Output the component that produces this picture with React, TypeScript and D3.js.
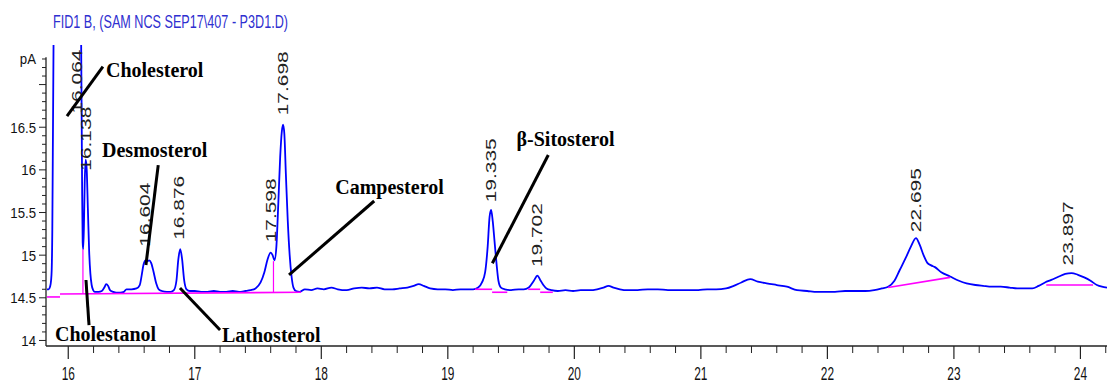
import * as d3 from "d3";

const W = 1107;
const H = 383;

const title = "FID1 B, (SAM NCS SEP17\\407 - P3D1.D)";
const yUnit = "pA";
const xTickValues = [16, 17, 18, 19, 20, 21, 22, 23, 24];
const yTickLabels = [14, 14.5, 15, 15.5, 16, 16.5];

// detector trace [retention time (min), signal (pA)]
const trace: [number, number][] = [
  [15.832, 14.6], [15.845, 14.6], [15.856, 14.63], [15.864, 14.7], [15.869, 14.82], [15.874, 15.3],
  [15.878, 16.2], [15.882, 17.1], [15.886, 18.0], [15.9, 19.5], [16.0, 20.5], [16.09, 19.2],
  [16.1, 17.9], [16.106, 16.6], [16.11, 15.7], [16.114, 15.15], [16.118, 15.07], [16.124, 15.35],
  [16.13, 15.85], [16.138, 16.12], [16.146, 16.0], [16.155, 15.55], [16.165, 15.05], [16.175, 14.78],
  [16.185, 14.65], [16.197, 14.59], [16.21, 14.57], [16.24, 14.57], [16.265, 14.58], [16.285, 14.62],
  [16.3, 14.66], [16.315, 14.64], [16.33, 14.59], [16.355, 14.57], [16.38, 14.56], [16.41, 14.56],
  [16.44, 14.57], [16.46, 14.6], [16.5, 14.6], [16.54, 14.61], [16.565, 14.65], [16.58, 14.76],
  [16.595, 14.89], [16.61, 14.94], [16.625, 14.93], [16.64, 14.94], [16.655, 14.91], [16.675, 14.8],
  [16.695, 14.67], [16.715, 14.6], [16.74, 14.58], [16.78, 14.57], [16.81, 14.57], [16.835, 14.59],
  [16.855, 14.7], [16.87, 14.95], [16.885, 15.07], [16.9, 14.95], [16.915, 14.72], [16.935, 14.6],
  [16.96, 14.58], [17.0, 14.58], [17.05, 14.57], [17.1, 14.57], [17.15, 14.58], [17.2, 14.57],
  [17.25, 14.57], [17.3, 14.58], [17.35, 14.57], [17.4, 14.58], [17.44, 14.59], [17.48, 14.61],
  [17.52, 14.68], [17.55, 14.8], [17.575, 14.95], [17.6, 15.03], [17.615, 15.0], [17.63, 14.94],
  [17.645, 15.1], [17.66, 15.6], [17.675, 16.15], [17.688, 16.45], [17.698, 16.53], [17.708, 16.42],
  [17.72, 15.95], [17.735, 15.4], [17.75, 15.0], [17.765, 14.75], [17.78, 14.62], [17.8, 14.58],
  [17.83, 14.57], [17.87, 14.6], [17.92, 14.59], [17.97, 14.61], [18.02, 14.6], [18.08, 14.62],
  [18.13, 14.6], [18.2, 14.59], [18.26, 14.61], [18.32, 14.62], [18.38, 14.61], [18.44, 14.62],
  [18.5, 14.6], [18.56, 14.6], [18.62, 14.61], [18.68, 14.62], [18.73, 14.64], [18.77, 14.66],
  [18.81, 14.64], [18.86, 14.61], [18.92, 14.6], [18.98, 14.6], [19.04, 14.59], [19.1, 14.6],
  [19.16, 14.6], [19.2, 14.6], [19.24, 14.62], [19.27, 14.68], [19.295, 14.8], [19.315, 15.1],
  [19.33, 15.45], [19.342, 15.53], [19.355, 15.4], [19.37, 15.15], [19.385, 14.9], [19.4, 14.7],
  [19.42, 14.62], [19.45, 14.6], [19.5, 14.59], [19.56, 14.6], [19.6, 14.6], [19.64, 14.62],
  [19.68, 14.7], [19.708, 14.76], [19.73, 14.71], [19.755, 14.65], [19.78, 14.61], [19.82, 14.59],
  [19.87, 14.58], [19.93, 14.59], [19.99, 14.58], [20.05, 14.59], [20.12, 14.59], [20.18, 14.6],
  [20.23, 14.62], [20.27, 14.64], [20.31, 14.62], [20.36, 14.6], [20.42, 14.59], [20.5, 14.59],
  [20.58, 14.6], [20.66, 14.6], [20.74, 14.59], [20.82, 14.59], [20.9, 14.59], [20.98, 14.59],
  [21.05, 14.6], [21.12, 14.6], [21.2, 14.61], [21.26, 14.64], [21.32, 14.68], [21.39, 14.72],
  [21.45, 14.69], [21.52, 14.67], [21.6, 14.65], [21.68, 14.63], [21.76, 14.59], [21.84, 14.58],
  [21.92, 14.57], [21.98, 14.57], [22.06, 14.57], [22.14, 14.58], [22.22, 14.58], [22.3, 14.58],
  [22.37, 14.59], [22.43, 14.61], [22.48, 14.63], [22.53, 14.7], [22.57, 14.82], [22.62, 14.97],
  [22.66, 15.1], [22.7, 15.2], [22.73, 15.12], [22.76, 15.0], [22.79, 14.91], [22.82, 14.88],
  [22.85, 14.86], [22.9, 14.8], [22.97, 14.75], [23.04, 14.7], [23.1, 14.67], [23.17, 14.65],
  [23.23, 14.64], [23.3, 14.63], [23.37, 14.63], [23.44, 14.62], [23.5, 14.61], [23.56, 14.61],
  [23.62, 14.61], [23.67, 14.64], [23.72, 14.68], [23.77, 14.71], [23.83, 14.75], [23.88, 14.78],
  [23.93, 14.79], [23.98, 14.77], [24.03, 14.74], [24.08, 14.7], [24.13, 14.65], [24.17, 14.63],
  [24.21, 14.62],
];

// integration baselines [t1, v1, t2, v2]
const baselines: [number, number, number, number][] = [
  [15.832, 14.51, 15.935, 14.51],
  [15.935, 14.545, 17.84, 14.565],
  [19.215, 14.6, 19.35, 14.6],
  [19.35, 14.565, 19.47, 14.565],
  [19.635, 14.6, 19.73, 14.6],
  [19.73, 14.565, 19.83, 14.565],
  [22.48, 14.62, 22.97, 14.74],
  [23.73, 14.65, 24.1, 14.65],
];
// peak split drop lines [t, vLow, vHigh]
const dropLines: [number, number, number][] = [
  [16.116, 14.545, 15.07],
  [17.622, 14.56, 14.93],
];

const peakTimes = [16.064, 16.138, 16.604, 16.876, 17.598, 17.698, 19.335, 19.702, 22.695, 23.897];
const peakLabelBase = [16.66, 15.99, 15.1, 15.18, 15.15, 16.64, 15.62, 14.86, 15.27, 14.88];

const compoundNames = ["Cholesterol", "Desmosterol", "Campesterol", "β-Sitosterol", "Cholestanol", "Lathosterol"];
const compoundTextAt: [number, number][] = [
  [16.298, 17.09], [16.267, 16.15], [18.11, 15.72], [19.543, 16.28], [15.895, 13.99], [17.215, 13.98],
];
const compoundLines: [number, number, number, number][] = [
  [15.99, 16.63, 16.274, 17.21],
  [16.711, 16.056, 16.614, 14.885],
  [18.418, 15.635, 17.745, 14.768],
  [19.794, 16.175, 19.352, 14.905],
  [16.14, 14.709, 16.164, 14.18],
  [16.883, 14.615, 17.2, 14.123],
];

export default function App() {
  const x = d3.scaleLinear().domain([15.832, 24.21]).range([47, 1107]);
  const y = d3.scaleLinear().domain([13.935, 17.464]).range([346, 45]);

  const line = d3
    .line<[number, number]>()
    .x((d) => x(d[0]))
    .y((d) => y(d[1]))
    .curve(d3.curveMonotoneX);

  const minorX = d3.range(16.2, 24.21, 0.2).filter((t) => Math.abs(t - Math.round(t)) > 0.05);
  const yTicks = d3.range(0, 34).map((i) => 14 + i * 0.1);
  const sans = "'Liberation Sans', Arial, sans-serif";
  const serif = "'Liberation Serif', 'Times New Roman', serif";
  const axisX = 46;

  return (
    <svg width={W} height={H} style={{ position: "absolute", left: 0, top: 0, background: "#fff" }}>
      <defs>
        <clipPath id="plot">
          <rect x={47} y={45} width={1060} height={301} />
        </clipPath>
      </defs>

      <text x={53} y={28} fontFamily={sans} fontSize={19} fill="#2f2fd0" textLength={235} lengthAdjust="spacingAndGlyphs">
        {title}
      </text>

      {/* y axis */}
      <line x1={axisX} x2={axisX} y1={y(17.32)} y2={346} stroke="#222" strokeWidth={1.3} />
      {yTicks.map((v, i) => {
        const major = i % 5 === 0;
        return (
          <line key={"yt" + i} x1={axisX - (major ? 7 : 4)} x2={axisX} y1={y(v)} y2={y(v)} stroke="#222" strokeWidth={1} />
        );
      })}
      {yTickLabels.map((v) => (
        <g key={"yl" + v} transform={`translate(36,${y(v)}) scale(0.88,1)`}>
          <text textAnchor="end" dy="0.36em" fontFamily={sans} fontSize={15} fill="#111">
            {String(v)}
          </text>
        </g>
      ))}
      <g transform={`translate(36,64) scale(0.88,1)`}>
        <text textAnchor="end" fontFamily={sans} fontSize={15} fill="#111">
          {yUnit}
        </text>
      </g>

      {/* x axis */}
      <line x1={axisX} x2={1107} y1={346} y2={346} stroke="#222" strokeWidth={1.6} />
      {xTickValues.map((t) => (
        <line key={"xt" + t} x1={x(t)} x2={x(t)} y1={346} y2={359} stroke="#222" strokeWidth={1.2} />
      ))}
      {minorX.map((t, i) => (
        <line key={"xm" + i} x1={x(t)} x2={x(t)} y1={346} y2={353} stroke="#222" strokeWidth={1} />
      ))}
      {xTickValues.map((t) => (
        <g key={"xl" + t} transform={`translate(${x(t)},380) scale(0.66,1)`}>
          <text textAnchor="middle" fontFamily={sans} fontSize={18} fill="#111">
            {String(t)}
          </text>
        </g>
      ))}

      {/* trace */}
      <path d={line(trace) || ""} fill="none" stroke="#0000ff" strokeWidth={1.8} clipPath="url(#plot)" />

      {baselines.map((b, i) => (
        <line key={"bl" + i} x1={x(b[0])} y1={y(b[1])} x2={x(b[2])} y2={y(b[3])} stroke="#ff00ff" strokeWidth={1.6} />
      ))}
      {dropLines.map((d, i) => (
        <line key={"dl" + i} x1={x(d[0])} x2={x(d[0])} y1={y(d[1])} y2={y(d[2])} stroke="#ff00ff" strokeWidth={1.2} />
      ))}

      {/* retention time labels */}
      {peakTimes.map((t, i) => (
        <text
          key={"pk" + t}
          transform={`translate(${x(t)},${y(peakLabelBase[i])}) rotate(-90)`}
          dy="0.36em"
          fontFamily={sans}
          fontSize={15}
          fill="#222"
          textLength={64}
          lengthAdjust="spacingAndGlyphs"
        >
          {t.toFixed(3)}
        </text>
      ))}

      {/* compound annotations */}
      {compoundLines.map((l, i) => (
        <line key={"cl" + i} x1={x(l[0])} y1={y(l[1])} x2={x(l[2])} y2={y(l[3])} stroke="#000" strokeWidth={3} />
      ))}
      {compoundNames.map((n, i) => (
        <text
          key={n}
          x={x(compoundTextAt[i][0])}
          y={y(compoundTextAt[i][1])}
          fontFamily={serif}
          fontWeight="bold"
          fontSize={20}
          fill="#000"
        >
          {n}
        </text>
      ))}
    </svg>
  );
}
